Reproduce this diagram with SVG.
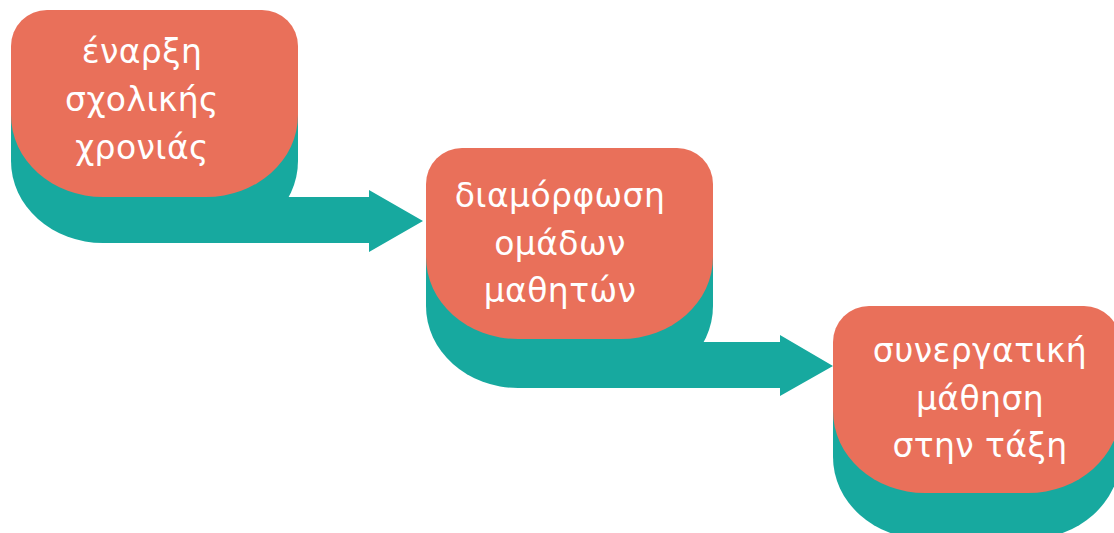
<svg xmlns="http://www.w3.org/2000/svg" width="1114" height="533" viewBox="0 0 1114 533">
  <style>
    .box { fill: #E9705A; }
    .flow { fill: #17A99F; }
    .label { fill: #FFFFFF; font-family: "DejaVu Sans", "Noto Sans", sans-serif; font-size: 33px; letter-spacing: 0.4px; text-anchor: middle; }
  </style>
  <rect x="0" y="0" width="1114" height="533" fill="#FFFFFF"/>
  <g id="connectors">
    <path class="flow" d="M 47,56 H 262 A 36 36 0 0 1 298,92 V 161 A 92 82 0 0 1 206,243 H 103 A 92 82 0 0 1 11,161 V 92 A 36 36 0 0 1 47,56 Z"/>
    <path class="flow" d="M 200,197 H 369 V 190 L 423,221 L 369,252 V 243 H 200 Z"/>
    <path class="flow" d="M 462,197 H 677 A 36 36 0 0 1 713,233 V 306 A 92 82 0 0 1 621,388 H 518 A 92 82 0 0 1 426,306 V 233 A 36 36 0 0 1 462,197 Z"/>
    <path class="flow" d="M 620,342 H 780 V 335 L 833,366 L 780,396 V 388 H 620 Z"/>
    <path class="flow" d="M 869,352 H 1084 A 36 36 0 0 1 1120,388 V 457 A 92 82 0 0 1 1028,539 H 925 A 92 82 0 0 1 833,457 V 388 A 36 36 0 0 1 869,352 Z"/>
  </g>
  <g id="node1">
    <path class="box" d="M 47,10 H 262 A 36 36 0 0 1 298,46 V 115 A 92 82 0 0 1 206,197 H 103 A 92 82 0 0 1 11,115 V 46 A 36 36 0 0 1 47,10 Z"/>
    <text class="label" x="142" y="63">έναρξη</text>
    <text class="label" x="142" y="111">σχολικής</text>
    <text class="label" x="142" y="159">χρονιάς</text>
  </g>
  <g id="node2">
    <path class="box" d="M 462,148 H 677 A 36 36 0 0 1 713,184 V 257 A 92 82 0 0 1 621,339 H 518 A 92 82 0 0 1 426,257 V 184 A 36 36 0 0 1 462,148 Z"/>
    <text class="label" x="560" y="207">διαμόρφωση</text>
    <text class="label" x="560" y="255">ομάδων</text>
    <text class="label" x="560" y="302">μαθητών</text>
  </g>
  <g id="node3">
    <path class="box" d="M 869,306 H 1084 A 36 36 0 0 1 1120,342 V 411 A 92 82 0 0 1 1028,493 H 925 A 92 82 0 0 1 833,411 V 342 A 36 36 0 0 1 869,306 Z"/>
    <text class="label" x="980" y="362">συνεργατική</text>
    <text class="label" x="980" y="410">μάθηση</text>
    <text class="label" x="980" y="457">στην τάξη</text>
  </g>
</svg>
